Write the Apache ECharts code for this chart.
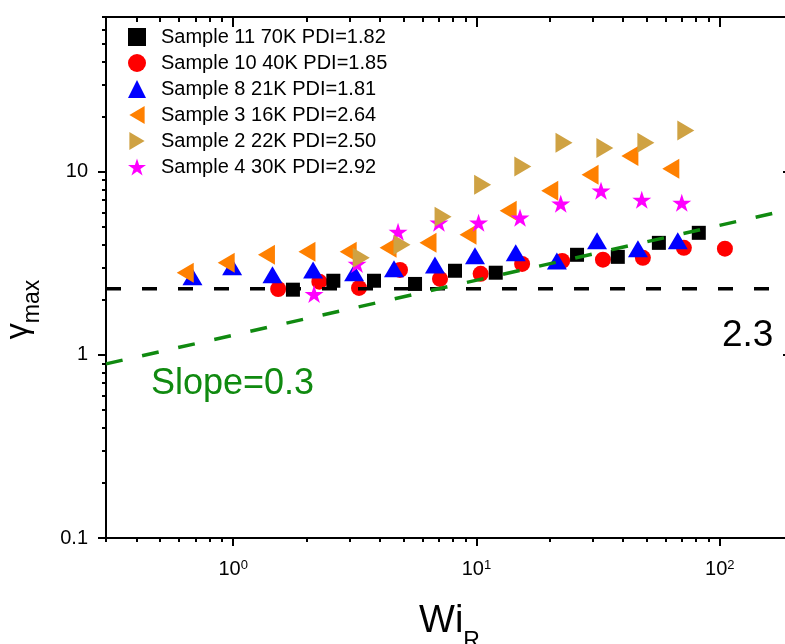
<!DOCTYPE html>
<html>
<head>
<meta charset="utf-8">
<script src="https://cdn.jsdelivr.net/npm/echarts@6/dist/echarts.min.js"></script>
<style>
  html, body { margin: 0; padding: 0; background: #ffffff; }
  #chart { width: 785px; height: 644px; }
</style>
</head>
<body>
<div id="chart"></div>
<script>
const FONT = '"Liberation Sans", Arial, sans-serif';

// Sample 11 70K PDI=1.82
const s11Wi    = [1.76, 2.58, 3.79, 5.59, 8.16, 12.0, 25.9, 38.1, 56.2, 82.0];
const s11Gamma = [2.27, 2.54, 2.54, 2.44, 2.88, 2.81, 3.52, 3.43, 4.09, 4.64];
// Sample 10 40K PDI=1.85
const s10Wi    = [1.53, 2.26, 3.29, 4.85, 7.08, 10.4, 15.4, 22.5, 33.1, 48.3, 71.2, 105];
const s10Gamma = [2.29, 2.51, 2.32, 2.91, 2.60, 2.77, 3.14, 3.26, 3.31, 3.39, 3.84, 3.80];
// Sample 8 21K PDI=1.81
const s8Wi     = [0.68, 0.99, 1.45, 2.13, 3.14, 4.58, 6.75, 9.86, 14.5, 21.4, 31.3, 46.1, 67.2];
const s8Gamma  = [2.67, 3.03, 2.74, 2.91, 2.81, 2.95, 3.10, 3.48, 3.61, 3.26, 4.20, 3.80, 4.20];
// Sample 3 16K PDI=2.64
const s3Wi     = [0.635, 0.936, 1.37, 2.01, 2.97, 4.33, 6.32, 9.23, 13.5, 20.0, 29.3, 42.7, 62.9];
const s3Gamma  = [2.81, 3.18, 3.52, 3.66, 3.66, 3.84, 4.09, 4.53, 6.12, 7.88, 9.63, 12.2, 10.4];
// Sample 2 22K PDI=2.50
const s2Wi     = [3.36, 4.94, 7.29, 10.6, 15.5, 22.9, 33.7, 49.7, 72.5];
const s2Gamma  = [3.39, 3.99, 5.68, 8.49, 10.7, 14.4, 13.5, 14.4, 16.8];
// Sample 4 30K PDI=2.92
const s4Wi     = [2.15, 3.23, 4.76, 7.01, 10.2, 15.1, 22.2, 32.5, 47.8, 69.8];
const s4Gamma  = [2.15, 3.14, 4.70, 5.27, 5.27, 5.61, 6.69, 7.88, 7.03, 6.77];

// Reference lines: plateau at 2.3 and a power law of slope 0.3
const plateauWi = [0.3, 200];
const plateauGamma = [2.3, 2.3];
const slopeWi = [0.3, 200];
const slopeGamma = [0.893, 6.28];

// Axis ranges and ticks
const xRange = [0.3, 200];
const yRange = [0.1, 70];
const xMajor = [1, 10, 100];
const xMinor = [0.3, 0.4, 0.5, 0.6, 0.7, 0.8, 0.9, 2, 3, 4, 5, 6, 7, 8, 9, 20, 30, 40, 50, 60, 70, 80, 90, 200];
const yMajor = [0.1, 1, 10];
const yMinor = [0.2, 0.3, 0.4, 0.5, 0.6, 0.7, 0.8, 0.9, 2, 3, 4, 5, 6, 7, 8, 9, 20, 30, 40, 50, 60, 70];

const names = [
  'Sample 11 70K PDI=1.82',
  'Sample 10 40K PDI=1.85',
  'Sample 8 21K PDI=1.81',
  'Sample 3 16K PDI=2.64',
  'Sample 2 22K PDI=2.50',
  'Sample 4 30K PDI=2.92'
];

const STAR = 'path://M50 0 L61.23 34.55 L97.55 34.55 L68.17 55.9 L79.39 90.45 L50 69.1 L20.61 90.45 L31.83 55.9 L2.45 34.55 L38.77 34.55 Z';
const TRI_LEFT = 'path://M0 50 L85 0 L85 100 Z';
const TRI_RIGHT = 'path://M85 50 L0 0 L0 100 Z';

function pairs(xs, ys) { return xs.map((x, i) => [x, ys[i]]); }

function scatter(name, xs, ys, symbol, size, color, rotate) {
  return {
    type: 'scatter', name: name, data: pairs(xs, ys),
    symbol: symbol, symbolSize: size, symbolRotate: rotate || 0,
    itemStyle: { color: color, opacity: 1 },
    emphasis: { disabled: true }
  };
}

const BLACK = '#000000';

function tickAxis(pos, range, values, len, inside, showLine) {
  return {
    type: 'log', logBase: 10, position: pos, min: range[0], max: range[1],
    axisLine: { show: showLine, onZero: false, lineStyle: { color: BLACK, width: 2 } },
    axisTick: { show: true, inside: inside, length: len, customValues: values, lineStyle: { color: BLACK, width: 2 } },
    axisLabel: { show: false },
    splitLine: { show: false }
  };
}

const exponentOf = v => Math.round(Math.log10(v));

const option = {
  animation: false,
  backgroundColor: '#ffffff',
  textStyle: { fontFamily: FONT },
  grid: { left: 106, top: 17, width: 687, height: 521, outerBoundsMode: 'none', containLabel: false },
  legend: {
    data: [
      { name: names[0], icon: 'rect' },
      { name: names[1], icon: 'circle' },
      { name: names[2], icon: 'triangle' },
      { name: names[3], icon: TRI_LEFT },
      { name: names[4], icon: TRI_RIGHT },
      { name: names[5], icon: STAR }
    ],
    orient: 'vertical', left: 128, top: 27, padding: 0,
    itemWidth: 18, itemHeight: 18, itemGap: 6,
    formatter: n => '{t|' + n + '}',
    textStyle: { fontFamily: FONT, fontSize: 20, color: BLACK, rich: { t: { fontFamily: FONT, fontSize: 20, color: BLACK, padding: [0, 0, 0, 10] } } },
    selectedMode: false
  },
  xAxis: [
    {
      type: 'log', logBase: 10, position: 'bottom', min: xRange[0], max: xRange[1],
      name: '{a|Wi}{b|R}', nameLocation: 'middle', nameGap: 65,
      nameTextStyle: {
        rich: {
          a: { fontFamily: FONT, fontSize: 38, color: BLACK, verticalAlign: 'top', padding: [0, 0, 12, 0] },
          b: { fontFamily: FONT, fontSize: 23, color: BLACK, verticalAlign: 'bottom' }
        }
      },
      axisLine: { show: true, onZero: false, lineStyle: { color: BLACK, width: 2 } },
      axisTick: { show: true, inside: false, length: 8, customValues: xMajor, lineStyle: { color: BLACK, width: 2 } },
      axisLabel: {
        show: true, customValues: xMajor, margin: 21,
        formatter: v => '{m|10}{e|' + exponentOf(v) + '}',
        rich: {
          m: { fontFamily: FONT, fontSize: 20, color: BLACK, verticalAlign: 'bottom' },
          e: { fontFamily: FONT, fontSize: 13, color: BLACK, verticalAlign: 'top' }
        }
      },
      splitLine: { show: false }
    },
    tickAxis('bottom', xRange, xMinor, 4, false, false),
    tickAxis('top', xRange, xMajor, 10, true, true),
    tickAxis('top', xRange, xMinor, 5, true, false)
  ],
  yAxis: [
    {
      type: 'log', logBase: 10, position: 'left', min: yRange[0], max: yRange[1],
      name: '{g|γ}{m|max}', nameLocation: 'middle', nameGap: 62, nameRotate: 90,
      nameTextStyle: {
        padding: [0, 64, 0, 0],
        rich: {
          g: { fontFamily: FONT, fontSize: 32, color: BLACK, verticalAlign: 'top', padding: [0, 0, 10, 0] },
          m: { fontFamily: FONT, fontSize: 23, color: BLACK, verticalAlign: 'bottom' }
        }
      },
      axisLine: { show: true, onZero: false, lineStyle: { color: BLACK, width: 2 } },
      axisTick: { show: true, inside: false, length: 8, customValues: yMajor, lineStyle: { color: BLACK, width: 2 } },
      axisLabel: {
        show: true, customValues: yMajor, margin: 18,
        fontFamily: FONT, fontSize: 20, color: BLACK,
        formatter: v => String(+Number(v).toPrecision(3))
      },
      splitLine: { show: false }
    },
    tickAxis('left', yRange, yMinor, 4, false, false),
    tickAxis('right', yRange, yMajor, 10, true, true),
    tickAxis('right', yRange, yMinor, 5, true, false)
  ],
  series: [
    scatter(names[1], s10Wi, s10Gamma, 'circle', 16, '#ff0000'),
    scatter(names[0], s11Wi, s11Gamma, 'rect', 14, '#000000'),
    scatter(names[2], s8Wi, s8Gamma, 'triangle', [20, 17], '#0000ff'),
    scatter(names[3], s3Wi, s3Gamma, 'triangle', [20, 17], '#ff8000', 90),
    scatter(names[5], s4Wi, s4Gamma, STAR, [19, 18], '#ff00ff'),
    scatter(names[4], s2Wi, s2Gamma, 'triangle', [20, 17], '#cfa243', -90),
    {
      type: 'line', data: pairs(plateauWi, plateauGamma), symbol: 'none', silent: true, z: 5,
      lineStyle: { color: BLACK, width: 3.5, type: [15, 21] }
    },
    {
      type: 'line', data: pairs(slopeWi, slopeGamma), symbol: 'none', silent: true, z: 5,
      lineStyle: { color: '#108a10', width: 3.5, type: [17, 20] }
    }
  ],
  graphic: [
    {
      type: 'text', left: 151, top: 366, silent: true,
      style: { text: 'Slope=0.3', fontFamily: FONT, fontSize: 36, fill: '#108a10' }
    },
    {
      type: 'text', left: 722, top: 317, silent: true,
      style: { text: '2.3', fontFamily: FONT, fontSize: 37, fill: BLACK }
    }
  ]
};

const chart = echarts.init(document.getElementById('chart'), null, { renderer: 'canvas' });
chart.setOption(option);
</script>
</body>
</html>
